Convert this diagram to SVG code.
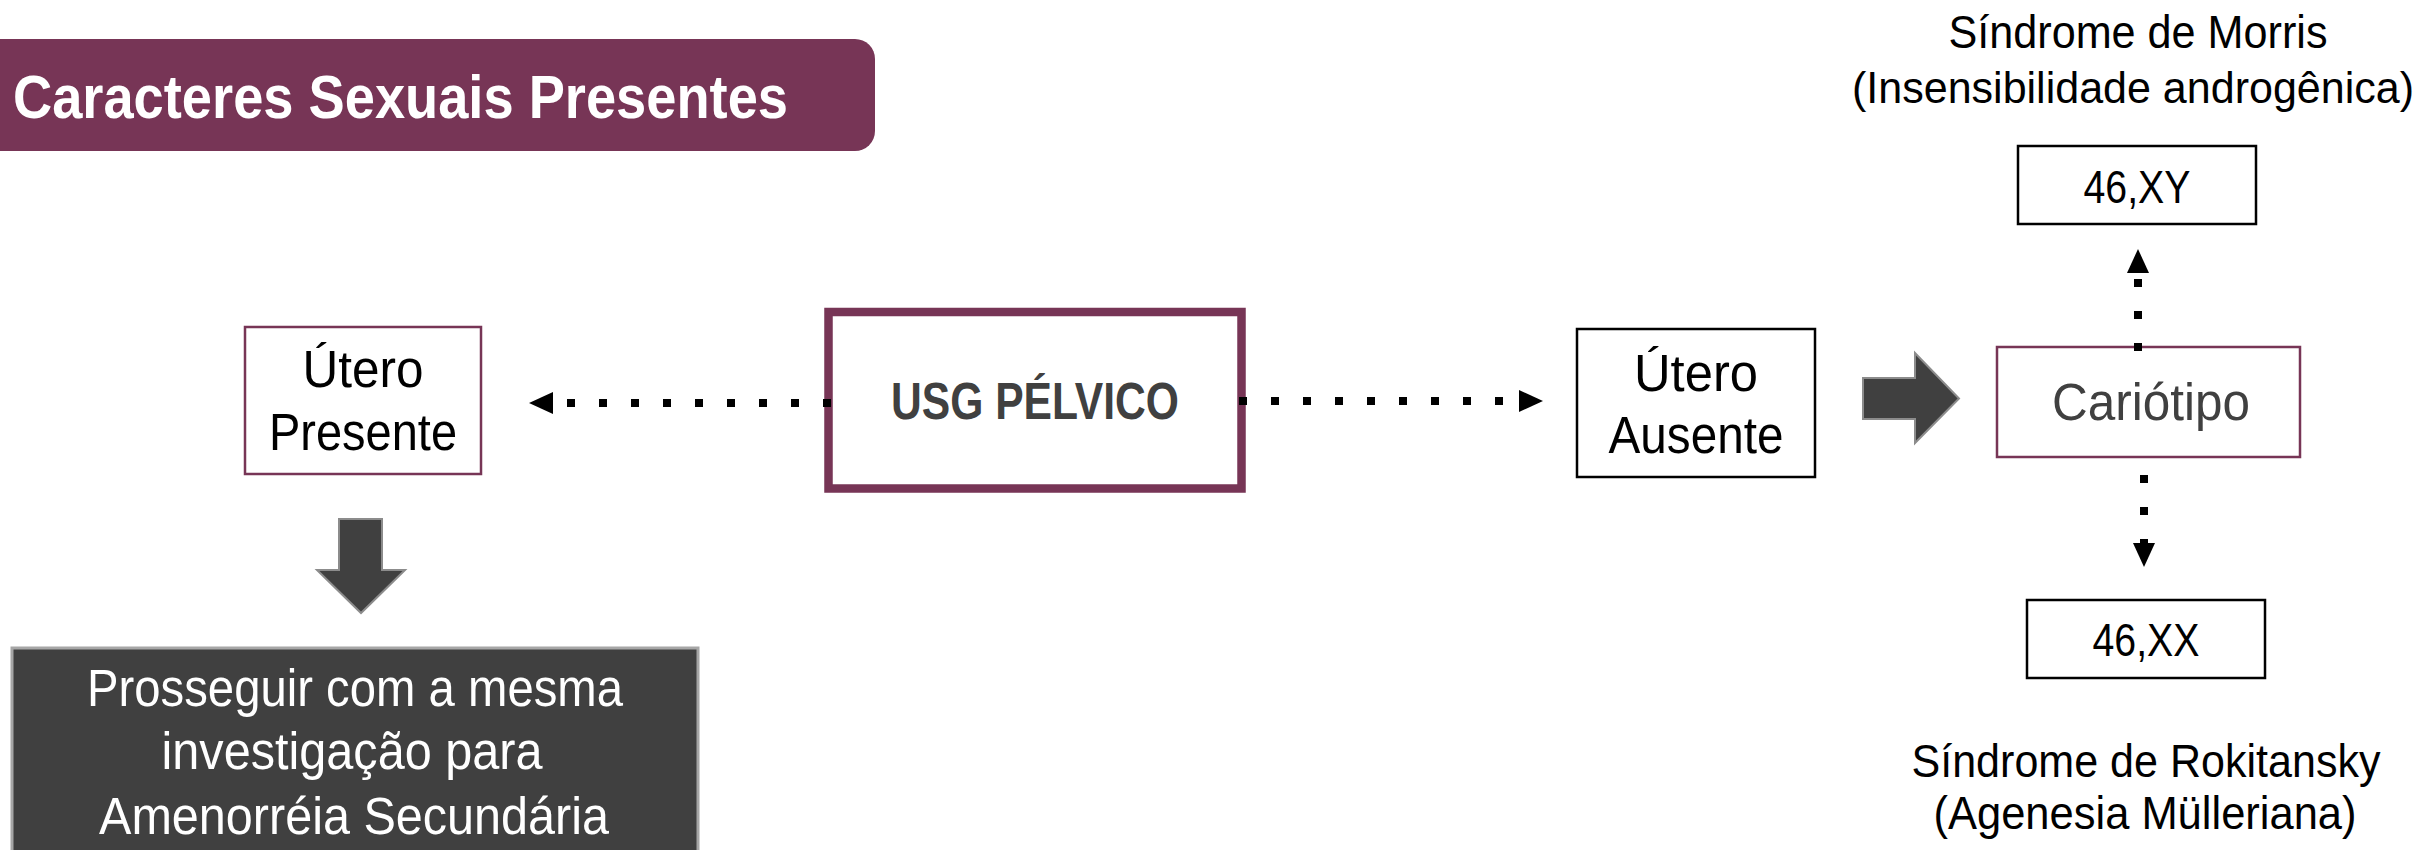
<svg xmlns="http://www.w3.org/2000/svg" width="2427" height="850" viewBox="0 0 2427 850">
<defs>
<style>
.t{font-family:"Liberation Sans",Arial,sans-serif;font-size:51px;fill:#000;text-anchor:middle}
.s{font-family:"Liberation Sans",Arial,sans-serif;font-size:46px;fill:#000;text-anchor:middle}
.w{fill:#fff}
.g{fill:#404040}
.b{font-weight:bold}
.mbox{fill:#fff;stroke:#773556;stroke-width:2.5}
.kbox{fill:#fff;stroke:#000;stroke-width:2.5}
.dot{fill:none;stroke:#000;stroke-width:8;stroke-dasharray:8 24}
.blk{fill:#404040;stroke:#8c8c8c;stroke-width:2}
</style>
<marker id="ah" viewBox="0 0 24 22" refX="0" refY="11" markerWidth="24" markerHeight="22" markerUnits="userSpaceOnUse" orient="auto">
<path d="M0,0 L24,11 L0,22 Z" fill="#000"/>
</marker>
</defs>
<rect width="2427" height="850" fill="#fff"/>

<g id="header">
<rect x="-30" y="39" width="905" height="112" rx="20" fill="#773556"/>
<text x="13" y="118" class="t w b" style="text-anchor:start;font-size:62px" textLength="775" lengthAdjust="spacingAndGlyphs">Caracteres Sexuais Presentes</text>
</g>

<g id="utero-presente">
<rect x="245" y="327" width="236" height="147" class="mbox" stroke-width="2"/>
<text x="363" y="387" class="t" textLength="121" lengthAdjust="spacingAndGlyphs">Útero</text>
<text x="363" y="450" class="t" textLength="188" lengthAdjust="spacingAndGlyphs">Presente</text>
</g>

<g id="usg">
<rect x="828.5" y="312" width="413" height="176.5" fill="#fff" stroke="#773556" stroke-width="8.5"/>
<text x="1035" y="419" class="t g b" style="font-size:52px" textLength="288" lengthAdjust="spacingAndGlyphs">USG PÉLVICO</text>
</g>

<g id="utero-ausente">
<rect x="1577" y="329" width="238" height="148" class="kbox" stroke-width="2"/>
<text x="1696" y="391" class="t" textLength="124" lengthAdjust="spacingAndGlyphs">Útero</text>
<text x="1696" y="453" class="t" textLength="175" lengthAdjust="spacingAndGlyphs">Ausente</text>
</g>

<g id="seta-direita">
<path d="M1863,378 L1915,378 L1915,353 L1959,398.5 L1915,443 L1915,419 L1863,419 Z" class="blk"/>
</g>

<g id="cariotipo">
<rect x="1997" y="347" width="303" height="110" class="mbox"/>
<text x="2151" y="420" class="t g" textLength="198" lengthAdjust="spacingAndGlyphs">Cariótipo</text>
</g>

<g id="xy">
<rect x="2018" y="146" width="238" height="78" class="kbox"/>
<text x="2137" y="203" class="s" textLength="107" lengthAdjust="spacingAndGlyphs">46,XY</text>
</g>

<g id="morris">
<text x="2138" y="48" class="s" textLength="379" lengthAdjust="spacingAndGlyphs">Síndrome de Morris</text>
<text x="2133" y="103" class="s" style="font-size:43.5px" textLength="562" lengthAdjust="spacingAndGlyphs">(Insensibilidade androgênica)</text>
</g>

<g id="xx">
<rect x="2027" y="600" width="238" height="78" class="kbox"/>
<text x="2146" y="656" class="s" textLength="107" lengthAdjust="spacingAndGlyphs">46,XX</text>
</g>

<g id="rokitansky">
<text x="2146" y="777" class="s" textLength="469" lengthAdjust="spacingAndGlyphs">Síndrome de Rokitansky</text>
<text x="2145" y="829" class="s" textLength="423" lengthAdjust="spacingAndGlyphs">(Agenesia Mülleriana)</text>
</g>

<g id="seta-baixo">
<path d="M339,519 L382,519 L382,570 L405,570 L361,613 L317,570 L339,570 Z" class="blk"/>
</g>

<g id="prosseguir">
<rect x="12" y="648" width="686" height="220" fill="#404040" stroke="#a6a6a6" stroke-width="3"/>
<text x="355" y="706" class="t w" textLength="536" lengthAdjust="spacingAndGlyphs">Prosseguir com a mesma</text>
<text x="352" y="769" class="t w" textLength="381" lengthAdjust="spacingAndGlyphs">investigação para</text>
<text x="354" y="834" class="t w" textLength="510" lengthAdjust="spacingAndGlyphs">Amenorréia Secundária</text>
</g>

<g id="connectors">
<line x1="831" y1="403" x2="553" y2="403" class="dot" marker-end="url(#ah)"/>
<line x1="1239" y1="401" x2="1519" y2="401" class="dot" marker-end="url(#ah)"/>
<line x1="2138" y1="351" x2="2138" y2="273" class="dot" marker-end="url(#ah)"/>
<line x1="2144" y1="459" x2="2144" y2="543" class="dot" stroke-dashoffset="16" marker-end="url(#ah)"/>
</g>
</svg>
